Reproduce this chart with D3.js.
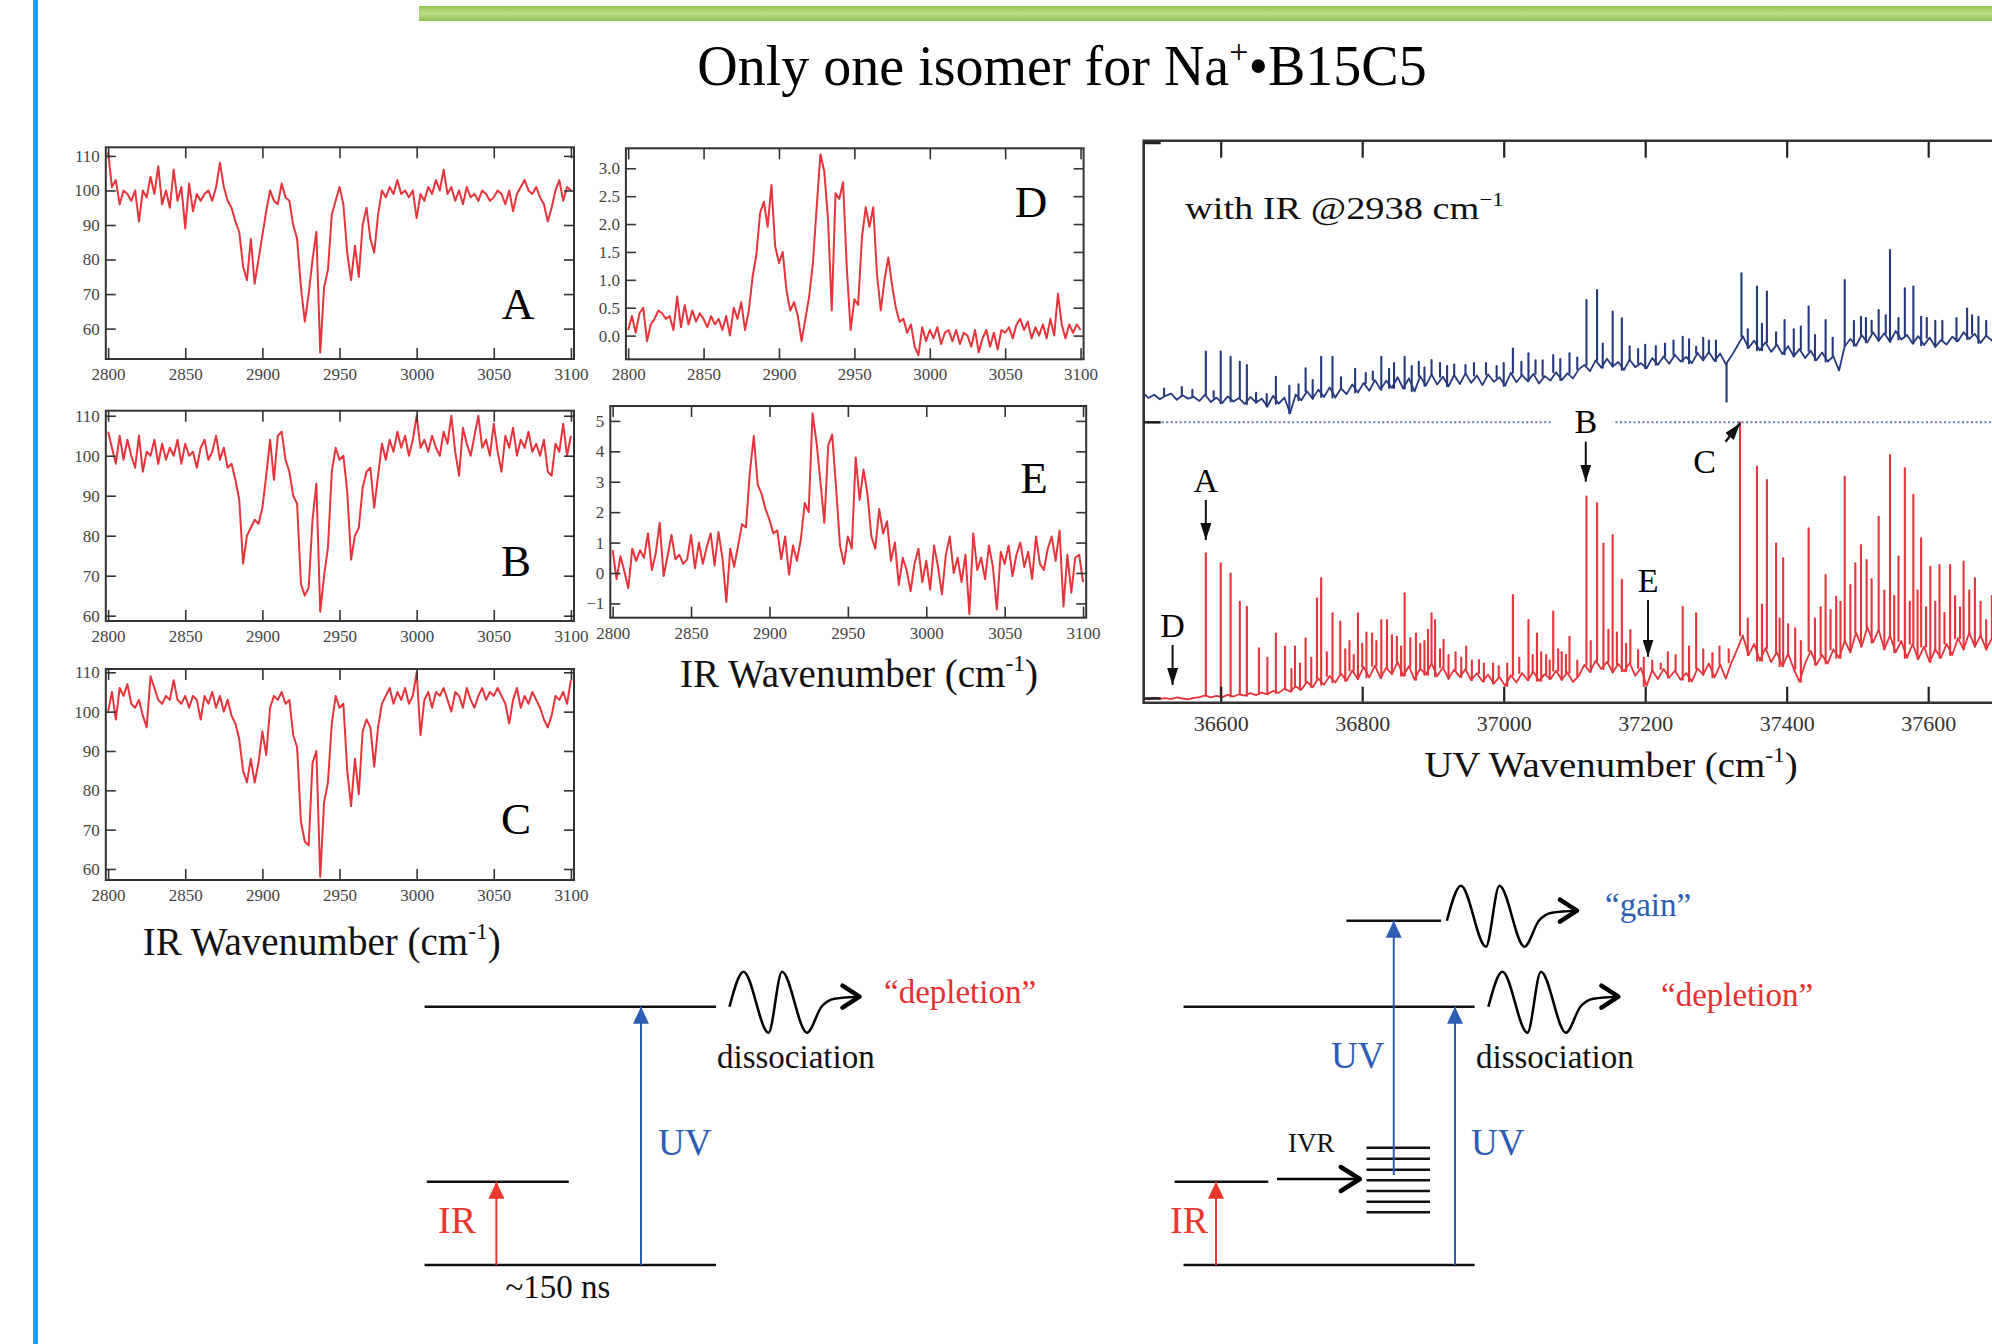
<!DOCTYPE html>
<html lang="en">
<head>
<meta charset="utf-8">
<title>Only one isomer for Na+•B15C5</title>
<script src="https://cdn.jsdelivr.net/npm/d3@7/dist/d3.min.js"></script>
<style>
  body { margin: 0; background: #fff; }
  text { font-family: "Liberation Serif", "Times New Roman", serif; }
</style>
</head>
<body>
<script>

// ---- IR spectra (2800-3100 cm-1, one value every 2.5 cm-1) ----
var irStart = 2800, irStep = 2.5;
var irTicks = [2800, 2850, 2900, 2950, 3000, 3050, 3100];
var pctTicks = [60, 70, 80, 90, 100, 110];
var dTicks = [0, 0.5, 1, 1.5, 2, 2.5, 3];
var eTicks = [-1, 0, 1, 2, 3, 4, 5];

var specA = [111,101,103,96,100,99,97,100,91,100,
  98,104,99,107,96,100,95,106,97,101,
  89,102,94,99,97,99,100,97,101,108,
  101,97,95,91,88,78,74,86,73,80,
  87,94,100,97,96,102,98,97,90,86,
  72,62,70,80,88,53,72,77,93,97,
  101,96,82,74,84,75,90,95,86,82,
  93,100,98,101,99,103,99,100,98,100,
  92,99,97,101,99,103,100,106,99,101,
  97,100,96,101,98,99,97,100,99,97,
  98,100,99,96,100,94,99,101,103,100,
  99,101,98,96,91,95,100,103,97,101,
  100];

var specB = [106,102,98,105,99,104,100,97,105,96,
  101,100,104,98,103,99,102,100,104,98,
  103,100,101,97,102,104,99,101,105,99,
  102,97,98,94,89,73,80,82,84,83,
  87,95,104,94,105,106,99,96,90,88,
  68,65,67,84,93,61,70,77,96,102,
  99,100,91,74,80,82,92,96,97,87,
  95,103,99,104,101,106,102,105,100,104,
  110,102,104,101,105,102,100,106,103,110,
  101,95,107,103,100,105,110,102,104,100,
  108,101,96,105,102,107,100,104,102,106,
  101,103,100,104,96,95,103,101,108,100,
  105];

var specC = [100,105,98,106,104,107,102,101,103,99,
  96,109,106,103,102,104,103,108,103,102,
  104,101,104,103,98,104,102,105,101,104,
  100,103,99,97,93,85,82,88,82,87,
  95,89,101,104,103,105,102,103,94,91,
  72,67,66,87,90,58,77,82,97,104,
  101,102,85,76,88,79,95,98,96,86,
  96,102,104,106,102,105,103,106,102,104,
  110,94,103,105,101,105,104,106,103,100,
  105,104,101,106,103,101,104,106,103,105,
  104,106,104,102,97,103,106,101,104,102,
  105,103,101,98,96,99,104,103,105,102,
  108];

var specD = [0.10,0.35,0.05,0.40,0.50,-0.10,0.20,0.30,0.45,0.40,
  0.30,0.35,0.10,0.70,0.15,0.55,0.20,0.45,0.25,0.40,
  0.30,0.15,0.35,0.20,0.30,0.10,0.35,0.00,0.50,0.30,
  0.60,0.10,0.45,1.05,1.45,2.20,2.40,1.95,2.70,1.60,
  1.30,1.50,0.80,0.45,0.60,0.35,-0.10,0.30,0.70,1.30,
  2.30,3.25,2.95,2.10,0.45,2.55,2.45,2.75,1.20,0.10,
  0.65,0.55,1.75,2.30,1.95,2.30,1.10,0.45,1.00,1.40,
  0.90,0.50,0.25,0.30,0.05,0.20,-0.20,-0.35,0.15,-0.10,
  0.10,-0.05,0.15,-0.15,0.05,0.10,-0.10,0.10,-0.15,0.05,
  0.00,-0.20,0.10,-0.30,-0.05,0.10,-0.20,0.05,-0.25,0.10,
  0.05,0.15,-0.05,0.20,0.30,0.10,0.25,-0.05,0.15,0.00,
  0.20,-0.05,0.30,0.00,0.75,0.20,-0.05,0.20,0.05,0.20,
  0.10];

var specE = [0.75,-0.20,0.55,0.05,-0.50,0.80,0.40,0.75,0.50,1.30,
  0.10,0.65,1.65,-0.10,0.55,1.25,0.45,0.60,0.30,0.45,
  1.25,0.15,1.00,0.30,0.85,1.30,0.25,1.35,0.50,-0.95,
  0.80,0.20,0.90,1.60,1.50,3.30,4.50,2.90,2.60,2.10,
  1.75,1.30,1.40,0.45,1.20,-0.05,0.90,0.40,1.10,2.30,
  2.00,5.25,4.30,3.00,1.65,4.20,4.55,2.80,0.90,0.30,
  1.20,0.80,3.80,2.40,3.40,2.60,1.20,0.80,2.10,1.30,
  1.70,0.40,1.00,-0.40,0.50,0.10,-0.60,0.30,0.80,-0.30,
  0.40,-0.55,0.90,0.20,-0.70,0.60,1.20,0.00,0.50,-0.30,
  0.60,-1.35,1.30,0.10,0.50,-0.20,0.90,0.20,-1.20,0.70,
  0.30,0.90,-0.10,0.60,1.00,0.20,0.70,-0.20,1.20,0.30,
  0.10,0.80,1.20,0.40,1.40,-1.10,0.60,-0.65,0.50,0.60,
  -0.30];

// ---- UV spectra (baseline every 8 cm-1 from 36490, plus sharp lines) ----
var uvStart = 36490, uvStep = 8;
var uvTicks = [36600, 36800, 37000, 37200, 37400, 37600];

var redBase = [1.5,1.2,1.8,1.4,1.6,1.3,1.9,1.5,1.2,1.7,
  2.0,2.6,1.9,2.4,2.0,2.8,2.2,3.0,2.5,3.4,
  2.7,3.6,3.0,4.2,3.5,5.0,4.0,5.8,4.6,7.5,
  5.5,8.6,6.4,9.5,7.2,10.4,7.8,11.5,8.4,12.8,
  9.0,13.2,8.8,12.5,10.2,14.5,9.6,13.0,8.2,12.2,
  10.0,14.0,9.4,12.6,8.6,11.8,9.2,12.0,8.0,10.5,
  7.6,10.0,6.8,9.2,6.0,9.8,7.2,10.6,8.0,11.0,
  7.8,10.2,8.4,11.4,8.2,10.8,7.4,9.6,13.5,11.0,
  15.0,12.0,14.6,10.8,13.8,11.2,14.2,9.6,12.4,6.0,
  11.6,8.4,12.0,9.0,11.4,8.2,10.6,7.6,12.2,10.0,
  14.0,9.0,13.6,8.6,14.4,19.0,24.0,17.0,21.0,15.0,
  19.5,14.5,18.0,13.0,17.5,12.0,7.5,14.0,18.5,13.5,
  17.0,14.0,19.0,16.0,22.0,18.0,25.0,20.0,27.0,21.5,
  26.0,19.0,24.0,18.0,22.0,16.0,21.0,15.5,20.0,14.5,
  19.0,16.0,21.0,17.0,23.0,19.0,25.0,20.0,24.0,19.0,
  23.0,21.0,24.0];

var redPeaks = [[36579,53.3],[36600,49.7],[36614,46.1],[36627,36],[36637,34.2],[36654,19.4],
  [36666,16],[36678,24.7],[36691,20],[36705,20],[36720,22.9],[36736,37.2],[36742,44.4],
  [36758,31.9],[36769,28.9],[36782,22],[36794,31.9],[36806,25],[36814,24.7],[36827,29.5],
  [36835,29.5],[36849,23.5],[36860,39],[36876,24.7],[36888,22],[36898,31.9],[36903,29.5],
  [36915,22.4],[36932,18],[36947,20],[36965,15.2],[36985,14],[37013,38.4],[37035,29.5],
  [37047,24.7],[37060,17],[37070,32.5],[37082,18],[37093,23.5],[37117,73.5],[37132,71.1],
  [37141,56.8],[37154,59.8],[37167,43.8],[37179,25.9],[37190,18.8],[37232,18],[37253,34.2],
  [37272,31.9],[37295,17.6],[37334,100],[37358,84.2],[37372,79.4],[37385,56.8],[37395,51.5],
  [37412,26.5],[37431,62.2],[37455,45.5],[37470,37.8],[37482,80.6],[37497,49.7],[37505,56.2],
  [37513,50.9],[37530,66.3],[37546,88.3],[37558,52.1],[37567,83.6],[37579,74.1],[37590,58.6],
  [37603,48.5],[37616,49.1],[37631,49.1],[37650,50.3],[37666,44.4],[37682,29.5],
  // smaller lines in the congested region
  [36700,12],[36712,14],[36728,16],[36750,18],[36776,19],[36788,17],[36800,21],[36820,22],
  [36842,24],[36855,20],[36868,23],[36882,21],[36893,26],[36910,19],[36922,17],[36940,16],
  [36955,15],[36972,14],[36993,13],[37005,14],[37022,16],[37041,17],[37053,18],[37065,15],
  [37077,19],[37088,17],[37104,15],[37123,22],[37148,26],[37160,25],[37173,21],[37198,16],
  [37210,15],[37222,14],[37243,17],[37262,20],[37282,19],[37305,20],[37318,19],[37345,30],
  [37365,35],[37390,30],[37402,28],[37420,22],[37440,30],[37448,34],[37462,33],[37476,36],
  [37490,42],[37520,44],[37538,40],[37552,38],[37574,36],[37585,40],[37597,34],[37610,36],
  [37623,32],[37638,38],[37645,34],[37658,40],[37674,36],[37690,38]];

var blueBase = [10.5,8.6,9.8,8.2,9.4,10.2,8.0,9.6,8.4,9.0,
  7.6,9.8,7.2,8.8,6.8,9.2,7.4,8.6,6.5,9.0,
  7.0,8.4,5.6,9.4,6.6,8.8,3.2,9.8,7.8,11.0,
  8.4,11.6,9.0,12.4,8.8,12.0,10.0,13.4,10.6,14.0,
  11.2,15.0,11.6,14.8,12.2,16.0,12.0,15.6,11.0,16.4,
  13.0,17.0,13.4,16.2,12.8,16.8,13.6,17.4,14.0,16.6,
  13.2,17.0,14.4,16.0,13.0,17.6,14.2,16.8,14.6,17.2,
  13.8,16.4,14.8,17.8,15.0,17.4,15.6,18.8,20.4,18.2,
  22.0,19.4,22.6,19.8,21.4,18.6,22.2,19.6,21.0,19.2,
  22.8,20.4,23.4,20.8,24.0,21.6,23.2,21.0,24.6,22.0,
  25.0,21.8,24.4,20.6,23.6,27.0,30.6,26.4,29.0,25.6,
  28.4,25.0,27.6,24.2,27.0,23.4,26.0,22.8,25.4,22.0,
  24.8,21.6,23.4,18.4,27.0,29.6,27.2,31.0,28.4,32.0,
  29.0,31.6,28.6,32.4,29.4,31.0,28.0,30.6,27.4,30.0,
  26.8,29.2,27.6,30.4,28.8,32.0,29.6,31.4,28.2,30.8,
  29.0,31.6,30.0];

var bluePeaks = [[36579,25.1],[36600,25.1],[36614,23.3],[36627,21.5],[36637,20.3],[36678,16.2],
  [36697,13],[36720,19.2],[36742,23.3],[36758,23.3],[36790,19],[36827,23.3],[36845,21],
  [36860,23.3],[36880,21.5],[36898,22.1],[36920,20],[36946,20.3],[36975,21],[37013,26.2],
  [37035,24.5],[37055,22],[37070,23.9],[37093,24.5],[37117,43.4],[37132,47],[37154,39.3],
  [37167,36.9],[37190,26],[37215,27],[37253,30.4],[37272,26.8],[37290,29],[37315,7.3],
  [37336,52.9],[37358,48.2],[37372,46.4],[37397,36.3],[37431,41.1],[37455,36.3],[37482,50.5],
  [37505,37.5],[37520,36],[37530,39.9],[37546,61.2],[37567,47.6],[37579,48.2],[37590,37.5],
  [37610,36],[37655,40.4],[37671,37.5],
  // noise spikes
  [36520,12],[36545,12.5],[36560,11.5],[36590,11],[36650,10.5],[36665,10],[36710,13.5],
  [36730,15],[36770,16],[36805,17.5],[36815,18],[36838,19],[36870,20],[36888,19.5],
  [36910,21],[36930,20.5],[36958,21],[36990,20],[37000,21],[37025,21.5],[37045,22],
  [37080,22.5],[37104,23],[37140,28],[37178,27],[37200,27.5],[37228,28],[37240,29],
  [37262,29.5],[37282,30],[37300,29],[37345,33],[37365,35],[37385,32],[37410,33],
  [37420,34],[37440,31],[37465,30],[37495,36],[37512,37],[37540,38],[37558,37],
  [37598,37],[37620,36],[37640,37],[37662,38],[37682,36]];

// labelled transitions: wavenumber, label height, arrow from/to (red scale units)
var uvMarks = [
  {t: "D", wn: 36532, lab: 23.3, from: 20.6, to: 6.3},
  {t: "A", wn: 36579, lab: 75.2, from: 72.3, to: 58.0},
  {t: "B", wn: 37116, lab: 96.1, from: 93.1, to: 78.8},
  {t: "E", wn: 37204, lab: 39.6, from: 36.6, to: 16.4}
];

var RED = "#e5343a", NAVY = "#26397f", UVBLUE = "#2d5db3", SERIF = "Liberation Serif, Times New Roman, serif";

var svg = d3.select("body").append("svg").attr("width", 1992).attr("height", 1344);
var defs = svg.append("defs");

// slide decoration
var grad = defs.append("linearGradient").attr("id", "bar").attr("x1", 0).attr("y1", 0).attr("x2", 0).attr("y2", 1);
grad.append("stop").attr("offset", "0%").attr("stop-color", "#8fc450");
grad.append("stop").attr("offset", "50%").attr("stop-color", "#b9df88");
grad.append("stop").attr("offset", "100%").attr("stop-color", "#8cc04a");
svg.append("rect").attr("x", 419).attr("y", 6).attr("width", 1580).attr("height", 15).attr("fill", "url(#bar)");
svg.append("rect").attr("x", 33).attr("y", 0).attr("width", 5).attr("height", 1344).attr("fill", "#00aeef");

var title = svg.append("text").attr("x", 1062).attr("y", 85).attr("text-anchor", "middle")
  .attr("font-size", 56).attr("fill", "#000");
title.append("tspan").text("Only one isomer for Na");
title.append("tspan").attr("dy", -22).attr("font-size", 34).text("+");
title.append("tspan").attr("dy", 22).text("•B15C5");

// arrow heads
function marker(id, color, len, wid) {
  defs.append("marker").attr("id", id).attr("viewBox", "0 0 " + len + " " + wid)
    .attr("refX", len).attr("refY", wid / 2).attr("markerUnits", "userSpaceOnUse")
    .attr("markerWidth", len).attr("markerHeight", wid).attr("orient", "auto")
    .append("path").attr("d", "M0,0L" + len + "," + (wid / 2) + "L0," + wid + "Z").attr("fill", color);
}
marker("hk", "#111", 17, 11);
marker("hr", "#e8382e", 17, 16);
marker("hb", UVBLUE, 17, 16);

function styleAxis(sel, size, col) {
  sel.select(".domain").remove();
  sel.attr("font-family", SERIF).attr("font-size", size);
  sel.selectAll("line").attr("stroke", "#333").attr("stroke-width", 1.6);
  sel.selectAll("text").attr("fill", col || "#444");
}

// wavenumber label with superscript -1
function waveTitle(x, y, pre, size, sx) {
  var g = svg.append("g").attr("transform", "translate(" + x + "," + y + ") scale(" + sx + ",1)");
  var t = g.append("text").attr("text-anchor", "middle").attr("font-size", size).attr("fill", "#111");
  t.append("tspan").text(pre + " (cm");
  t.append("tspan").attr("dy", -size * 0.42).attr("font-size", size * 0.6).text("-1");
  t.append("tspan").attr("dy", size * 0.42).text(")");
}

// ---- IR panels ----
var irDomain = [2798.5, 3102];
function irPanel(p) {
  var x = d3.scaleLinear().domain(irDomain).range([p.x0, p.x1]);
  var y = d3.scaleLinear().domain(p.dom).range([p.y1, p.y0]);
  var g = svg.append("g");
  var id = "clip" + p.letter;
  defs.append("clipPath").attr("id", id).append("rect")
    .attr("x", p.x0).attr("y", p.y0).attr("width", p.x1 - p.x0).attr("height", p.y1 - p.y0);

  var line = d3.line()
    .x(function(d, i) { return x(irStart + i * irStep); })
    .y(function(d) { return y(d); });
  g.append("path").datum(p.data).attr("clip-path", "url(#" + id + ")").attr("d", line)
    .attr("fill", "none").attr("stroke", RED).attr("stroke-width", 2).attr("stroke-linejoin", "round");

  g.append("g").attr("transform", "translate(0," + p.y1 + ")")
    .call(d3.axisBottom(x).tickValues(irTicks).tickFormat(d3.format("d")).tickSizeInner(-11).tickSizeOuter(0).tickPadding(9))
    .call(styleAxis, 17);
  g.append("g").attr("transform", "translate(0," + p.y0 + ")")
    .call(d3.axisTop(x).tickValues(irTicks).tickFormat("").tickSizeInner(-11).tickSizeOuter(0))
    .call(styleAxis, 17);
  g.append("g").attr("transform", "translate(" + p.x0 + ",0)")
    .call(d3.axisLeft(y).tickValues(p.ticks).tickFormat(p.fmt).tickSizeInner(-10).tickSizeOuter(0).tickPadding(6))
    .call(styleAxis, 17);
  g.append("g").attr("transform", "translate(" + p.x1 + ",0)")
    .call(d3.axisRight(y).tickValues(p.ticks).tickFormat("").tickSizeInner(-10).tickSizeOuter(0))
    .call(styleAxis, 17);

  g.append("rect").attr("x", p.x0).attr("y", p.y0).attr("width", p.x1 - p.x0).attr("height", p.y1 - p.y0)
    .attr("fill", "none").attr("stroke", "#333").attr("stroke-width", 2);
  g.append("text").attr("x", p.lx).attr("y", p.ly).attr("text-anchor", "middle")
    .attr("font-size", 45).attr("fill", "#000").text(p.letter);
}

var intFmt = d3.format("d");
irPanel({letter: "A", data: specA, x0: 105.8, x1: 574, y0: 147.3, y1: 359, dom: [51.2, 112.5], ticks: pctTicks, fmt: intFmt, lx: 518, ly: 319});
irPanel({letter: "B", data: specB, x0: 105.8, x1: 574, y0: 410.7, y1: 621, dom: [58.67, 111.26], ticks: pctTicks, fmt: intFmt, lx: 516, ly: 576});
irPanel({letter: "C", data: specC, x0: 105.8, x1: 574, y0: 669, y1: 880, dom: [57.2, 110.84], ticks: pctTicks, fmt: intFmt, lx: 516, ly: 834});
irPanel({letter: "D", data: specD, x0: 625.9, x1: 1083.6, y0: 148.3, y1: 359.3, dom: [-0.425, 3.358], ticks: dTicks, fmt: d3.format(".1f"), lx: 1031, ly: 217});
irPanel({letter: "E", data: specE, x0: 610.3, x1: 1086.2, y0: 406, y1: 617.7, dom: [-1.47, 5.49], ticks: eTicks, fmt: intFmt, lx: 1034, ly: 493});

waveTitle(321.7, 955, "IR Wavenumber", 39, 1);
waveTitle(859, 687, "IR Wavenumber", 39, 1);

// ---- UV panel ----
var ux = d3.scaleLinear().domain([36600, 37600]).range([1220.7, 1928.2]);
var ry = d3.scaleLinear().domain([0, 100]).range([702.7, 422.3]);
var by = d3.scaleLinear().domain([0, 100]).range([422.3, 140.7]);
var uvL = 1143.7, uvT = 140.7, uvB = 702.7, uvMid = ry(100);

defs.append("clipPath").attr("id", "clipUV").append("rect")
  .attr("x", uvL).attr("y", uvT).attr("width", 1992 - uvL).attr("height", uvB - uvT);
var uv = svg.append("g");
var traces = uv.append("g").attr("clip-path", "url(#clipUV)");

function spectrum(base, peaks, yS, color, w) {
  var line = d3.line()
    .x(function(d, i) { return ux(uvStart + i * uvStep); })
    .y(function(d) { return yS(d); });
  traces.append("path").datum(base).attr("d", line).attr("fill", "none")
    .attr("stroke", color).attr("stroke-width", w).attr("stroke-linejoin", "round");
  traces.selectAll(null).data(peaks).enter().append("line")
    .attr("x1", function(d) { return ux(d[0]); })
    .attr("x2", function(d) { return ux(d[0]); })
    .attr("y1", function(d) { return yS(base[Math.round((d[0] - uvStart) / uvStep)]); })
    .attr("y2", function(d) { return yS(d[1]); })
    .attr("stroke", color).attr("stroke-width", w + 0.3).attr("stroke-linecap", "round");
}
spectrum(blueBase, bluePeaks, by, NAVY, 1.8);
spectrum(redBase, redPeaks, ry, RED, 1.8);

// dotted separator, broken for the B label
var dots = uv.append("g").attr("stroke", "#6a78b0").attr("stroke-width", 2).attr("stroke-dasharray", "2,2.5");
dots.append("line").attr("x1", uvL).attr("x2", ux(37068)).attr("y1", uvMid).attr("y2", uvMid);
dots.append("line").attr("x1", ux(37158)).attr("x2", 1992).attr("y1", uvMid).attr("y2", uvMid);

uv.append("g").attr("transform", "translate(0," + uvB + ")")
  .call(d3.axisBottom(ux).tickValues(uvTicks).tickFormat(d3.format("d")).tickSizeInner(-16).tickSizeOuter(0).tickPadding(13))
  .call(styleAxis, 22, "#333");
uv.append("g").attr("transform", "translate(0," + uvT + ")")
  .call(d3.axisTop(ux).tickValues(uvTicks).tickFormat("").tickSizeInner(-17).tickSizeOuter(0))
  .call(styleAxis, 22);
uv.selectAll("g.tick line").attr("stroke-width", 2.2).attr("stroke", "#222");

// frame (right side runs off the slide)
uv.append("path").attr("d", "M1992," + uvT + "H" + uvL + "V" + uvB + "H1992")
  .attr("fill", "none").attr("stroke", "#333").attr("stroke-width", 2.6);
[ry(1.5), ry(100), by(99.2)].forEach(function(yy) {
  uv.append("line").attr("x1", uvL).attr("x2", uvL + 17).attr("y1", yy).attr("y2", yy)
    .attr("stroke", "#222").attr("stroke-width", 2.6);
});

// labels and arrows for the probed transitions
uvMarks.forEach(function(m) {
  uv.append("line").attr("x1", ux(m.wn)).attr("x2", ux(m.wn)).attr("y1", ry(m.from)).attr("y2", ry(m.to))
    .attr("stroke", "#111").attr("stroke-width", 2).attr("marker-end", "url(#hk)");
  uv.append("text").attr("x", ux(m.wn)).attr("y", ry(m.lab)).attr("text-anchor", "middle")
    .attr("font-size", 34).attr("fill", "#000").text(m.t);
});
uv.append("line").attr("x1", ux(37313.5)).attr("y1", ry(93.1)).attr("x2", ux(37334)).attr("y2", ry(99.7))
  .attr("stroke", "#111").attr("stroke-width", 2.4).attr("marker-end", "url(#hk)");
uv.append("text").attr("x", ux(37284)).attr("y", ry(81.8)).attr("text-anchor", "middle")
  .attr("font-size", 34).attr("fill", "#000").text("C");

var withIR = svg.append("g").attr("transform", "translate(1185,219) scale(1.2,1)")
  .append("text").attr("font-size", 32).attr("fill", "#111");
withIR.append("tspan").text("with IR @2938 cm");
withIR.append("tspan").attr("dy", -13).attr("font-size", 19).text("\u22121");

waveTitle(1611, 777, "UV Wavenumber", 36, 1.08);

// ---- energy level diagrams ----
var dg = svg.append("g");
function level(x1, x2, y) {
  dg.append("line").attr("x1", x1).attr("x2", x2).attr("y1", y).attr("y2", y)
    .attr("stroke", "#111").attr("stroke-width", 2.5);
}
function vArrow(x, y1, y2, color, head) {
  dg.append("line").attr("x1", x).attr("x2", x).attr("y1", y1).attr("y2", y2)
    .attr("stroke", color).attr("stroke-width", 2).attr("marker-end", "url(#" + head + ")");
}
function chevron(x, y, w, h) {
  dg.append("path").attr("d", "M" + (x - w) + "," + (y - h) + "L" + x + "," + y + "L" + (x - w) + "," + (y + h))
    .attr("fill", "none").attr("stroke", "#000").attr("stroke-width", 4.5)
    .attr("stroke-linecap", "round").attr("stroke-linejoin", "round");
}
var wavePts = [[0, 0], [14, -35], [39, 26], [52.5, -35], [77.5, 26], [92, 0], [105, -8], [130, -10]];
function wave(x0, y0) {
  var l = d3.line().x(function(d) { return x0 + d[0]; }).y(function(d) { return y0 + d[1]; })
    .curve(d3.curveMonotoneX);
  dg.append("path").attr("d", l(wavePts)).attr("fill", "none").attr("stroke", "#000").attr("stroke-width", 2.5);
  chevron(x0 + 130, y0 - 10, 17, 11);
}
function label(x, y, s, size, color, anchor) {
  dg.append("text").attr("x", x).attr("y", y).attr("font-size", size).attr("fill", color)
    .attr("text-anchor", anchor || "start").text(s);
}

// left: depletion scheme
level(424.6, 716, 1006.7);
level(426.8, 568.8, 1181.7);
level(424.6, 716, 1265);
vArrow(496.4, 1265, 1181.7, "#e8382e", "hr");
vArrow(641, 1265, 1006.7, UVBLUE, "hb");
wave(729.5, 1006.7);
label(884, 1003, "\u201cdepletion\u201d", 33, "#e5302f");
label(717, 1068, "dissociation", 33, "#111");
label(658, 1155, "UV", 37, UVBLUE);
label(438, 1233, "IR", 38, "#e8382e");
label(558, 1298, "~150 ns", 33, "#111", "middle");

// right: gain after IVR
level(1346.4, 1441, 920.7);
level(1183.5, 1474.6, 1006.7);
level(1174.6, 1268.3, 1181.7);
level(1183.5, 1474.6, 1265);
[1147.7, 1158.7, 1169.7, 1180.3, 1191, 1201.7, 1212.3].forEach(function(yy) { level(1366.5, 1430, yy); });
dg.append("line").attr("x1", 1277).attr("x2", 1359).attr("y1", 1179).attr("y2", 1179)
  .attr("stroke", "#000").attr("stroke-width", 2.5);
chevron(1359.8, 1179, 19, 12);
vArrow(1216, 1265, 1181.7, "#e8382e", "hr");
vArrow(1393.75, 1175, 920.7, UVBLUE, "hb");
vArrow(1455, 1265, 1006.7, UVBLUE, "hb");
wave(1446.9, 920.7);
wave(1488.4, 1006.7);
label(1605, 916, "\u201cgain\u201d", 33, UVBLUE);
label(1661, 1006, "\u201cdepletion\u201d", 33, "#e5302f");
label(1476, 1068, "dissociation", 33, "#111");
label(1331, 1068, "UV", 37, UVBLUE);
label(1471, 1155, "UV", 37, UVBLUE);
label(1170, 1233, "IR", 38, "#e8382e");
label(1288, 1152, "IVR", 27, "#111");

</script>
</body>
</html>
